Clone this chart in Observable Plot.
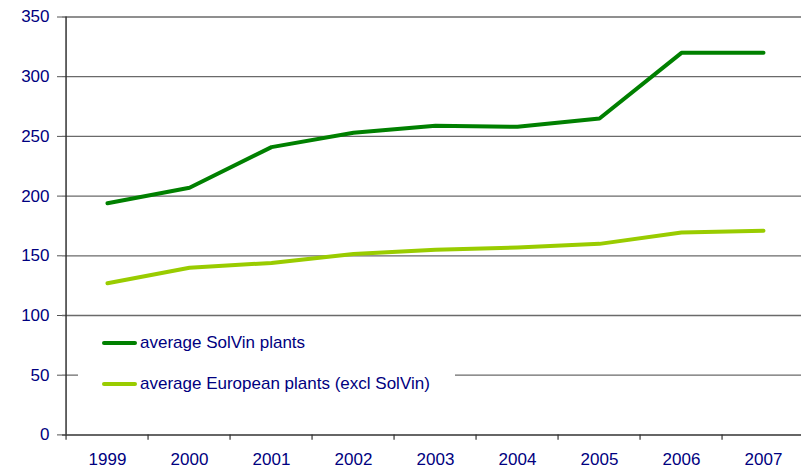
<!DOCTYPE html>
<html>
<head>
<meta charset="utf-8">
<script src="https://cdn.jsdelivr.net/npm/d3@7"></script>
<script src="https://cdn.jsdelivr.net/npm/@observablehq/plot@0.6"></script>
<style>
  html, body { margin: 0; padding: 0; background: #fff; }
  #wrap { position: relative; width: 801px; height: 468px; font-family: "Liberation Sans", Arial, sans-serif; }
  #legend { position: absolute; left: 78px; top: 327px; width: 377px; height: 68px; background: #fff; }
  .item { position: absolute; left: 24px; height: 20px; display: flex; align-items: center; font-size: 17px; color: #000080; white-space: nowrap; }
  .sw { width: 35px; height: 4.5px; margin-right: 3px; border-radius: 2px; }
  svg g[aria-label="y-axis tick"] path { stroke: #555; }
  svg text { font-size: 17px; }
</style>
</head>
<body>
<div id="wrap"></div>
<script>
const years = ["1999","2000","2001","2002","2003","2004","2005","2006","2007"];
const solvin = [194, 207, 241, 253, 259, 258, 265, 320, 320];
const european = [127, 140, 144, 151.5, 155, 157, 160, 169.5, 171];
const yTicks = [0, 50, 100, 150, 200, 250, 300, 350];
const seriesNames = ["average SolVin plants", "average European plants (excl SolVin)"];
const seriesColors = ["#008000", "#99cc00"];

const navy = "#000080";
const xLeft = 62, xRight = 808;
const half = (xRight - xLeft) / years.length / 2;

const rows = [];
years.forEach((y, i) => {
  rows.push({year: y, value: solvin[i], series: seriesNames[0]});
  rows.push({year: y, value: european[i], series: seriesNames[1]});
});

const chart = Plot.plot({
  width: 801,
  height: 468,
  marginLeft: 62,
  marginRight: 0,
  marginTop: 16,
  marginBottom: 34,
  style: {fontFamily: '"Liberation Sans", Arial, sans-serif', fontSize: "17px", color: navy, overflow: "visible"},
  x: {type: "point", domain: years, range: [xLeft, xRight], padding: 0.5, label: null},
  y: {domain: [0, 350], range: [434.4, 16.5], label: null},
  color: {domain: seriesNames, range: seriesColors},
  marks: [
    Plot.ruleY(yTicks.filter(d => d > 0), {stroke: "#6a6a6a", strokeWidth: 1.3}),
    Plot.ruleY([0], {stroke: "#333", strokeWidth: 1.5}),
    Plot.ruleX([years[0]], {dx: -half, y1: 0, y2: 350, stroke: "#333", strokeWidth: 1.5}),
    Plot.ruleX(years, {dx: -half, y1: -4.5, y2: 0, stroke: "#333", strokeWidth: 1.2}),
    Plot.axisY({ticks: yTicks, tickSize: 5, tickPadding: 8, fontSize: 17, color: navy}),
    Plot.axisX({tickSize: 0, tickPadding: 18.5, fontSize: 17, color: navy}),
    Plot.line(rows, {x: "year", y: "value", z: "series", stroke: "series", strokeWidth: 4, strokeLinejoin: "round", strokeLinecap: "round"})
  ]
});

const wrap = document.getElementById("wrap");
wrap.appendChild(chart);

const legend = document.createElement("div");
legend.id = "legend";
seriesNames.forEach((name, i) => {
  const item = document.createElement("div");
  item.className = "item";
  item.style.top = (6 + i * 41) + "px";
  const sw = document.createElement("span");
  sw.className = "sw";
  sw.style.background = seriesColors[i];
  const label = document.createElement("span");
  label.textContent = name;
  item.appendChild(sw);
  item.appendChild(label);
  legend.appendChild(item);
});
wrap.appendChild(legend);
</script>
</body>
</html>
